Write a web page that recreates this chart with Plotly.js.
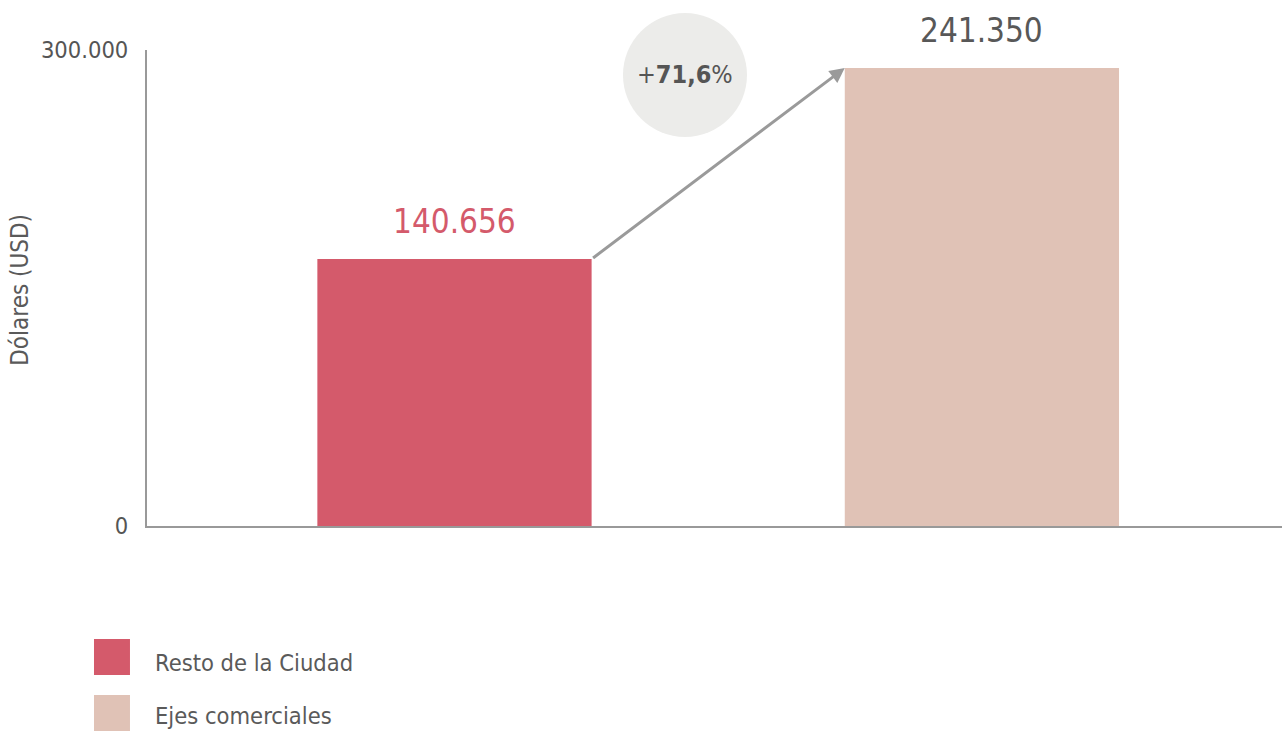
<!DOCTYPE html>
<html>
<head>
<meta charset="utf-8">
<script src="https://cdn.plot.ly/plotly-3.0.1.min.js"></script>
<style>
html,body{margin:0;padding:0;background:#fff;}
#chart{width:1282px;height:731px;}
</style>
</head>
<body>
<div id="chart"></div>
<script>
// ---- data ----
const categories = ["Resto de la Ciudad", "Ejes comerciales"];
const values = [140656, 241350];
const barColors = ["#d45a6b", "#e0c2b6"];
const labelColors = ["#d45a6b", "#585858"];
const yTickLabels = ["0", "300.000"];
const yTitle = "Dólares (USD)";

const FONT = '"Liberation Sans Narrow", "DejaVu Sans Condensed", "Roboto Condensed", sans-serif';
const yTop = 250833;
const fmt = v => String(v).replace(/\B(?=(\d{3})+(?!\d))/g, ".");
const pct = ((values[1] / values[0] - 1) * 100).toFixed(1).replace(".", ",");

const traces = categories.map((c, i) => ({
  type: "bar",
  name: c,
  x: [i],
  y: [values[i]],
  width: 0.52,
  marker: {color: barColors[i]},
  hoverinfo: "skip",
  showlegend: false
}));

const annotations = [];
categories.forEach((c, i) => {
  annotations.push({
    x: i, y: values[i], xref: "x", yref: "y",
    text: fmt(values[i]), showarrow: false,
    yanchor: "bottom", yshift: 16,
    font: {family: FONT, size: 33, color: labelColors[i]}
  });
  // legend text
  annotations.push({
    xref: "paper", yref: "paper",
    x: 0.0053, y: i === 0 ? -0.2878 : -0.3992,
    xanchor: "left", yanchor: "middle",
    text: c, showarrow: false,
    font: {family: FONT, size: 23.5, color: "#5a5a5a"}
  });
});
// arrow
annotations.push({
  x: 1 - 0.26, y: values[1], ax: 0.26, ay: values[0],
  xref: "x", yref: "y", axref: "x", ayref: "y",
  showarrow: true, arrowhead: 2, arrowsize: 1, arrowwidth: 3,
  arrowcolor: "#9a9a9a", text: "", standoff: 0, startstandoff: 0
});
// percentage text
annotations.push({
  x: 0.474, y: 0.9475, xref: "paper", yref: "paper",
  xanchor: "center", yanchor: "middle",
  text: "+<b>" + pct + "</b>%", showarrow: false,
  font: {family: FONT, size: 25, color: "#555555"}
});
// y title
annotations.push({
  xref: "paper", yref: "paper", x: -0.112, y: 0.496,
  xanchor: "center", yanchor: "middle",
  text: yTitle, textangle: -90, showarrow: false,
  font: {family: FONT, size: 24, color: "#5a5a5a"}
});

const shapes = [
  {type: "circle", xref: "paper", yref: "paper", xsizemode: "pixel", ysizemode: "pixel",
   xanchor: 0.474, yanchor: 0.9475, x0: -62, x1: 62, y0: -62, y1: 62,
   fillcolor: "#ececea", line: {width: 0}, layer: "below"},
  {type: "rect", xref: "paper", yref: "paper", x0: -0.0467, x1: -0.015, y0: -0.2374, y1: -0.313,
   fillcolor: barColors[0], line: {width: 0}},
  {type: "rect", xref: "paper", yref: "paper", x0: -0.0467, x1: -0.015, y0: -0.355, y1: -0.4307,
   fillcolor: barColors[1], line: {width: 0}}
];

const layout = {
  width: 1282, height: 731,
  margin: {l: 147, r: 0, t: 50, b: 205, pad: 0},
  paper_bgcolor: "#ffffff", plot_bgcolor: "#ffffff",
  barmode: "overlay",
  xaxis: {
    range: [-0.583, 1.569], showticklabels: false, showgrid: false, zeroline: false,
    showline: true, linecolor: "#999999", linewidth: 2, ticks: "", fixedrange: true
  },
  yaxis: {
    range: [0, yTop], tickvals: [0, yTop], ticktext: yTickLabels,
    showgrid: false, zeroline: false, showline: true, linecolor: "#999999", linewidth: 2,
    ticks: "outside", ticklen: 12, tickcolor: "rgba(0,0,0,0)",
    tickfont: {family: FONT, size: 23.5, color: "#555555"}, fixedrange: true
  },
  annotations: annotations,
  shapes: shapes,
  showlegend: false
};

Plotly.newPlot("chart", traces, layout, {displayModeBar: false, staticPlot: true});
</script>
</body>
</html>
